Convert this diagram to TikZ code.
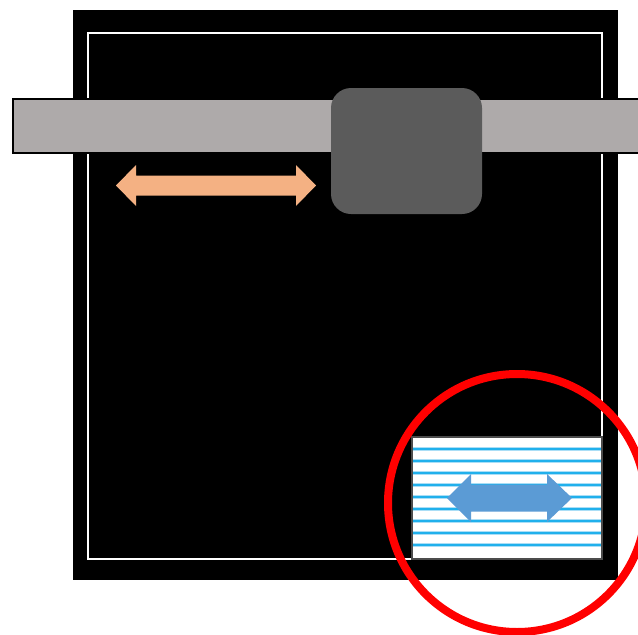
\documentclass[tikz,border=0pt]{standalone}
\usetikzlibrary{positioning}

\definecolor{barGray}{RGB}{174,170,170}
\definecolor{knobGray}{RGB}{91,91,91}
\definecolor{peach}{RGB}{244,177,131}
\definecolor{arrowBlue}{RGB}{91,155,213}
\definecolor{stripeBlue}{RGB}{32,176,236}
\definecolor{stripeHalo}{RGB}{170,222,246}

\begin{document}
\begin{tikzpicture}[x=1pt, y=-1pt,
  panel/.style={rectangle, inner sep=0pt, outer sep=0pt},
  stripe/.style={stripeBlue, line width=2.4pt},
  halo/.style={stripeHalo, line width=4.5pt}
]
\useasboundingbox (0,0) rectangle (638,635);
\clip (0,0) rectangle (638,635);
% frame
\node[panel, fill=black, minimum width=545pt, minimum height=570pt] (frame) at (345.5,295) {};
\node[panel, draw=white, line width=2pt, minimum width=514pt, minimum height=526pt] (inner) at (345,296) {};
% rail and slider
\node[panel, fill=barGray, draw=black, line width=1.5pt, minimum width=632pt, minimum height=54pt] (rail) at (329,126) {};
\node[panel, fill=knobGray, rounded corners=20pt, minimum width=151pt, minimum height=126pt] (slider) at (406.5,151) {};
% travel arrow
\fill[peach] (116,185.5) -- (136,165) -- (136,175.5) -- (296,175.5) -- (296,165)
  -- (316,185.5) -- (296,206) -- (296,195.5) -- (136,195.5) -- (136,206) -- cycle;
% detail box
\node[panel, fill=white, draw=black!70, line width=1.5pt, minimum width=190pt, minimum height=122pt] (detail) at (507,498) {};
\foreach \y in {12,24,...,108} {
  \draw[halo] ([yshift=-\y pt, xshift=1pt]detail.north west) -- ([yshift=-\y pt, xshift=-1pt]detail.north east);
  \draw[stripe] ([yshift=-\y pt, xshift=1pt]detail.north west) -- ([yshift=-\y pt, xshift=-1pt]detail.north east);
}
\fill[arrowBlue] (447,498) -- (471,474) -- (471,484.5) -- (547,484.5) -- (547,474)
  -- (572,498) -- (547,522) -- (547,511.5) -- (471,511.5) -- (471,522) -- cycle;
% highlight
\node[circle, draw=red, line width=8pt, minimum size=258pt, inner sep=0pt] (mark) at (517,503) {};
\end{tikzpicture}
\end{document}
